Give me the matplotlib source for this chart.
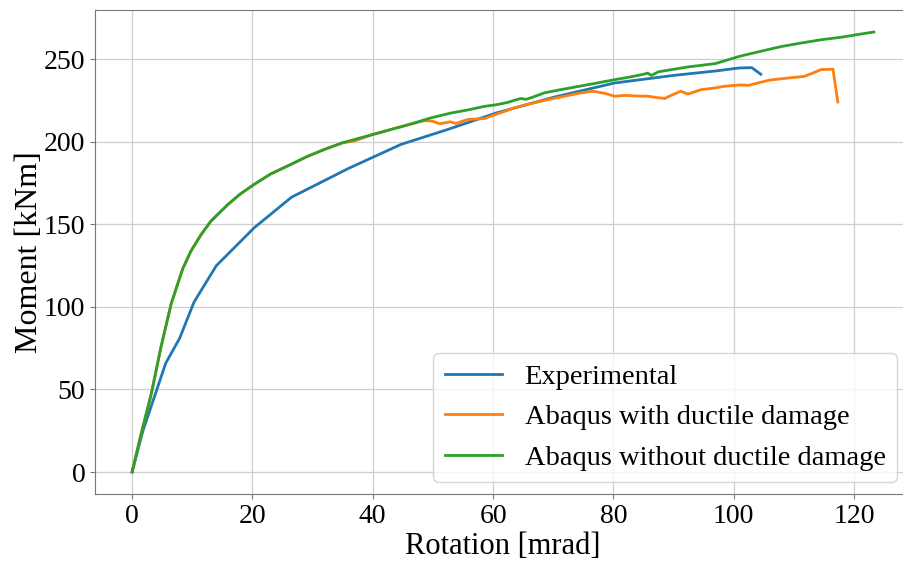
import matplotlib.pyplot as plt

plt.rcParams['font.family'] = ['Liberation Serif', 'DejaVu Serif']

# moment-rotation curves (rotation in mrad, moment in kNm)
exp_rot = [0, 1.8, 5.6, 7.9, 10.3, 14.0, 20.3, 26.5, 36.0, 44.7, 52, 60.5, 70,
           80.2, 90, 97, 100.9, 103.0, 104.5]
exp_mom = [0, 25, 66, 81, 103, 125, 148, 166.5, 184, 198.5, 207, 217.5, 227,
           235.7, 240.3, 243, 244.8, 245, 241]

dmg_rot = [0, 1.5, 3.2, 4.8, 6.5, 8.4, 9.8, 11.5, 13.1, 15.9, 18, 20.3, 23,
           26.4, 29, 32, 35, 36.9, 40, 43, 46, 48.6, 50, 51.1, 52.9, 53.8,
           55.8, 58.6, 60.5, 63.5, 66, 69.1, 72, 74.6, 76.6, 78.5, 80.2, 82,
           84, 85.7, 87, 88.5, 90.1, 91.2, 92.4, 94.6, 96.5, 98.4, 101, 102.5,
           104, 106, 109, 111.7, 113, 114.5, 116.5, 117.3]
dmg_mom = [0, 23, 47.5, 75.7, 102, 123, 134, 144, 152, 162, 168.5, 174.3,
           180.5, 186.4, 191, 195.5, 199.5, 200.5, 204.5, 207.5, 210.5, 212.9,
           212.5, 211, 212.2, 211.2, 213.6, 214.2, 216.7, 220.6, 223, 225.6,
           227.8, 229.7, 230.7, 229.5, 227.7, 228.2, 227.8, 227.7, 227, 226.3,
           229, 230.7, 229, 231.7, 232.5, 233.7, 234.5, 234.3, 235.7, 237.5,
           238.7, 239.7, 241.5, 243.8, 244.1, 224.2]

nodmg_rot = [0, 1.5, 3.2, 4.8, 6.5, 8.4, 9.8, 11.5, 13.1, 15.9, 18, 20.3, 23,
             26.4, 29, 32, 35, 37.5, 40, 43, 46, 49.7, 53, 56, 58.5, 60.5,
             62.5, 63.8, 64.6, 65.5, 66.5, 68.5, 71, 74, 77, 80.2, 83, 85,
             85.7, 86.3, 87.5, 90, 92.5, 94.6, 97, 100.9, 104, 107.9, 111,
             114.5, 118, 121, 123.3]
nodmg_mom = [0, 23, 47.5, 75.7, 102, 123, 134, 144, 152, 162, 168.5, 174.3,
             180.5, 186.4, 191, 195.5, 199.5, 202, 204.5, 207.5, 210.5, 214.6,
             217.5, 219.5, 221.5, 222.5, 224, 225.5, 226.3, 225.8, 227, 229.7,
             231.5, 233.5, 235.5, 237.7, 239.5, 241, 241.7, 240.3, 242.5, 244,
             245.5, 246.4, 247.5, 251.8, 254.5, 257.8, 259.8, 261.9, 263.5,
             265.3, 266.6]

fig = plt.figure(figsize=(9.04, 5.62), dpi=100)
ax = fig.add_axes([95 / 904, 68 / 562, 816 / 904, 484 / 562])

ax.plot(exp_rot, exp_mom, lw=2, label='Experimental')
ax.plot(dmg_rot, dmg_mom, lw=2, label='Abaqus with ductile damage')
ax.plot(nodmg_rot, nodmg_mom, lw=2, label='Abaqus without ductile damage')

ax.grid(True, color='#cfcfcf', lw=0.9)
ax.set_axisbelow(True)
for s in ax.spines.values():
    s.set_color('#777777')
ax.tick_params(labelsize=20, color='#777777')

ax.set_xlabel('Rotation [mrad]', fontsize=22, labelpad=2)
ax.set_ylabel('Moment [kNm]', fontsize=23, labelpad=0)

ax.legend(loc='lower right', bbox_to_anchor=(897 / 904, 80 / 562),
          bbox_transform=fig.transFigure, borderaxespad=0, fontsize=20.5)

fig.savefig('out.png', dpi=100)
